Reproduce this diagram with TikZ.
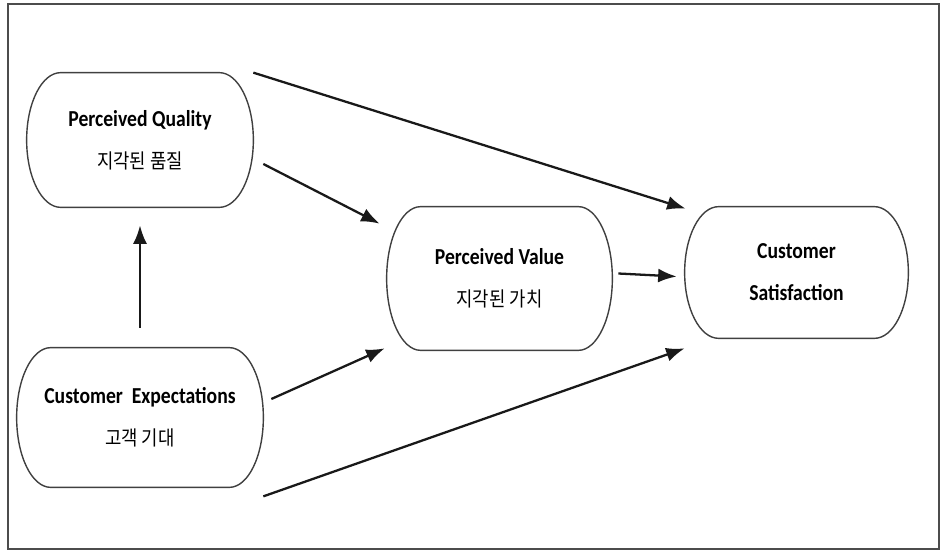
\documentclass[tikz,border=0pt]{standalone}
\usepackage{fontspec}
\setmainfont{Carlito}[FakeStretch=0.86]
\newfontfamily\kr{Noto Sans CJK KR}[FakeStretch=0.88]
\usetikzlibrary{arrows.meta,calc}
\newcommand{\kor}[1]{{\kr\mdseries\fontsize{11.5pt}{24pt}\selectfont #1}}
\newlength{\capr}
\setlength{\capr}{0.68cm}

\begin{document}
\begin{tikzpicture}
	\tikzstyle{stage}=[rectangle, align=center, inner sep=0pt, font=\bfseries\fontsize{13pt}{24pt}\selectfont]
	\tikzstyle{outline}=[draw=black!75, line width=0.8pt]
	\tikzstyle{connect}=[-{Latex[length=0.37cm,width=0.28cm]}, line width=1.3pt, black!90]
	\tikzstyle{frame}=[draw=black!70, line width=1.2pt]
	\useasboundingbox (0,0) rectangle (18.96,11.02);
	\draw[frame] (0.16,0.04) rectangle (18.78,10.94);
	% the four stages
	\node[stage, minimum width=4.52cm, minimum height=2.68cm] (pq) at (2.80,8.22) {Perceived Quality\\\kor{지각된 품질}};
	\node[stage, minimum width=4.92cm, minimum height=2.78cm] (ce) at (2.80,2.67) {Customer\ \ Expectations\\\kor{고객 기대}};
	\node[stage, minimum width=4.50cm, minimum height=2.86cm] (pv) at (9.99,5.45) {Perceived Value\\\kor{지각된 가치}};
	\node[stage, minimum width=4.46cm, minimum height=2.62cm] (cs) at (15.93,5.57) {Customer\\Satisfaction};
	% capsule outlines
	\foreach \nd in {pq,ce,pv,cs}
		\draw[outline] let \p1=(\nd.north east), \p2=(\nd.south west) in
		([xshift=\capr]\nd.north west) -- ([xshift=-\capr]\nd.north east)
		arc[start angle=90, end angle=-90, x radius=\capr, y radius={0.5*(\y1-\y2)}]
		-- ([xshift=\capr]\nd.south west)
		arc[start angle=270, end angle=90, x radius=\capr, y radius={0.5*(\y1-\y2)}] -- cycle;
	% links
	\draw[connect] (pq.north east) -- ([shift={(0.02,-0.04)}]cs.north west);
	\draw[connect] ([shift={(0.2,-0.48)}]pq.east) -- ([shift={(-0.14,-0.34)}]pv.north west);
	\draw[connect, shorten <=0.4cm, shorten >=0.36cm] (ce.north) -- (pq.south);
	\draw[connect] ([shift={(0.12,0.1)}]pv.east) -- ([shift={(-0.16,-0.08)}]cs.west);
	\draw[connect] ([shift={(0.16,0.37)}]ce.east) -- ([shift={(-0.04,0.04)}]pv.south west);
	\draw[connect] ([shift={(0.0,-0.18)}]ce.south east) -- ([yshift=-0.2cm]cs.south west);
\end{tikzpicture}
\end{document}
